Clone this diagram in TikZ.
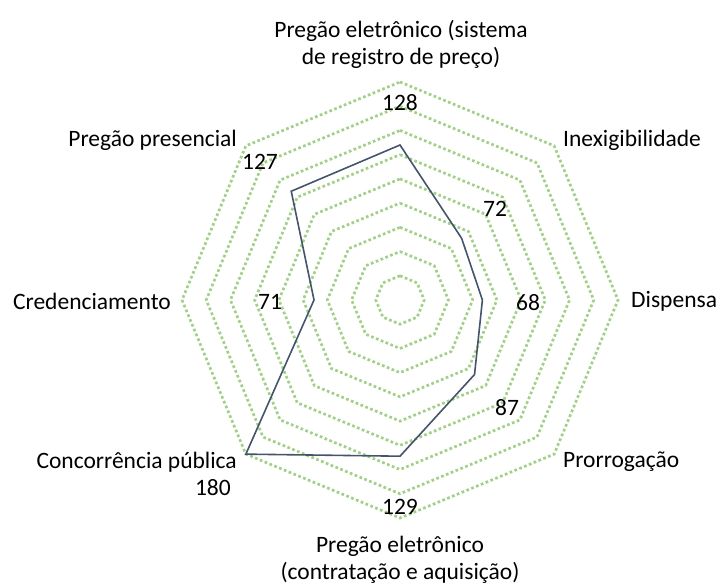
\documentclass[tikz,border=0pt]{standalone}
\usepackage{fontspec}
\setmainfont{Carlito}
\definecolor{ringgreen}{HTML}{A3D088}
\definecolor{dataline}{HTML}{44546A}
\begin{document}
\begin{tikzpicture}[x=1pt,y=-1pt,
  lbl/.style={font=\fontsize{23.5}{27}\selectfont, inner sep=0pt, align=center, text=black},
  ring/.style={draw=ringgreen, line width=2.7pt, dash pattern=on 2.7pt off 2.5pt},
  series/.style={draw=dataline, line width=1.6pt, line join=miter}]
\useasboundingbox (0,0) rectangle (719,585);
\coordinate (O) at (400,300);
% grid rings
\foreach \k in {1,...,9}{
  \pgfmathsetmacro{\r}{24.222*\k}
  \draw[ring, shift={(O)}] (-90:\r) -- (-45:\r) -- (0:\r) -- (45:\r) -- (90:\r) -- (135:\r) -- (180:\r) -- (225:\r) -- cycle;
}
% data points
\path[shift={(O)}]
  (-90:155.0) coordinate (d1)
  (-45:87.2)  coordinate (d2)
  (0:82.4)    coordinate (d3)
  (45:105.4)  coordinate (d4)
  (90:156.2)  coordinate (d5)
  (135:218.0) coordinate (d6)
  (180:86.0)  coordinate (d7)
  (225:153.8) coordinate (d8);
\draw[series] (d1) -- (d2) -- (d3) -- (d4) -- (d5) -- (d6) -- (d7) -- (d8) -- cycle;
% category labels
\node[lbl] (cTop) at (401,44) {Pregão eletrônico (sistema\\de registro de preço)};
\node[lbl, anchor=west] (cNE) at (563,140) {Inexigibilidade};
\node[lbl, anchor=west] (cE) at (631,301) {Dispensa};
\node[lbl, anchor=west] (cSE) at (563,462) {Prorrogação};
\node[lbl] (cS) at (400,560) {Pregão eletrônico\\(contratação e aquisição)};
\node[lbl, anchor=east] (cSW) at (237,462) {Concorrência pública};
\node[lbl, anchor=east] (cW) at (171,301) {Credenciamento};
\node[lbl, anchor=east] (cNW) at (237,140) {Pregão presencial};
% value labels
\node[lbl] (v1) at (400,103) {128};
\node[lbl] (v2) at (495,209) {72};
\node[lbl] (v3) at (528,303) {68};
\node[lbl] (v4) at (507,408) {87};
\node[lbl] (v5) at (400,507) {129};
\node[lbl, anchor=east] (v6) at (231,488) {180};
\node[lbl] (v7) at (270,302) {71};
\node[lbl] (v8) at (260,162) {127};
\end{tikzpicture}
\end{document}
